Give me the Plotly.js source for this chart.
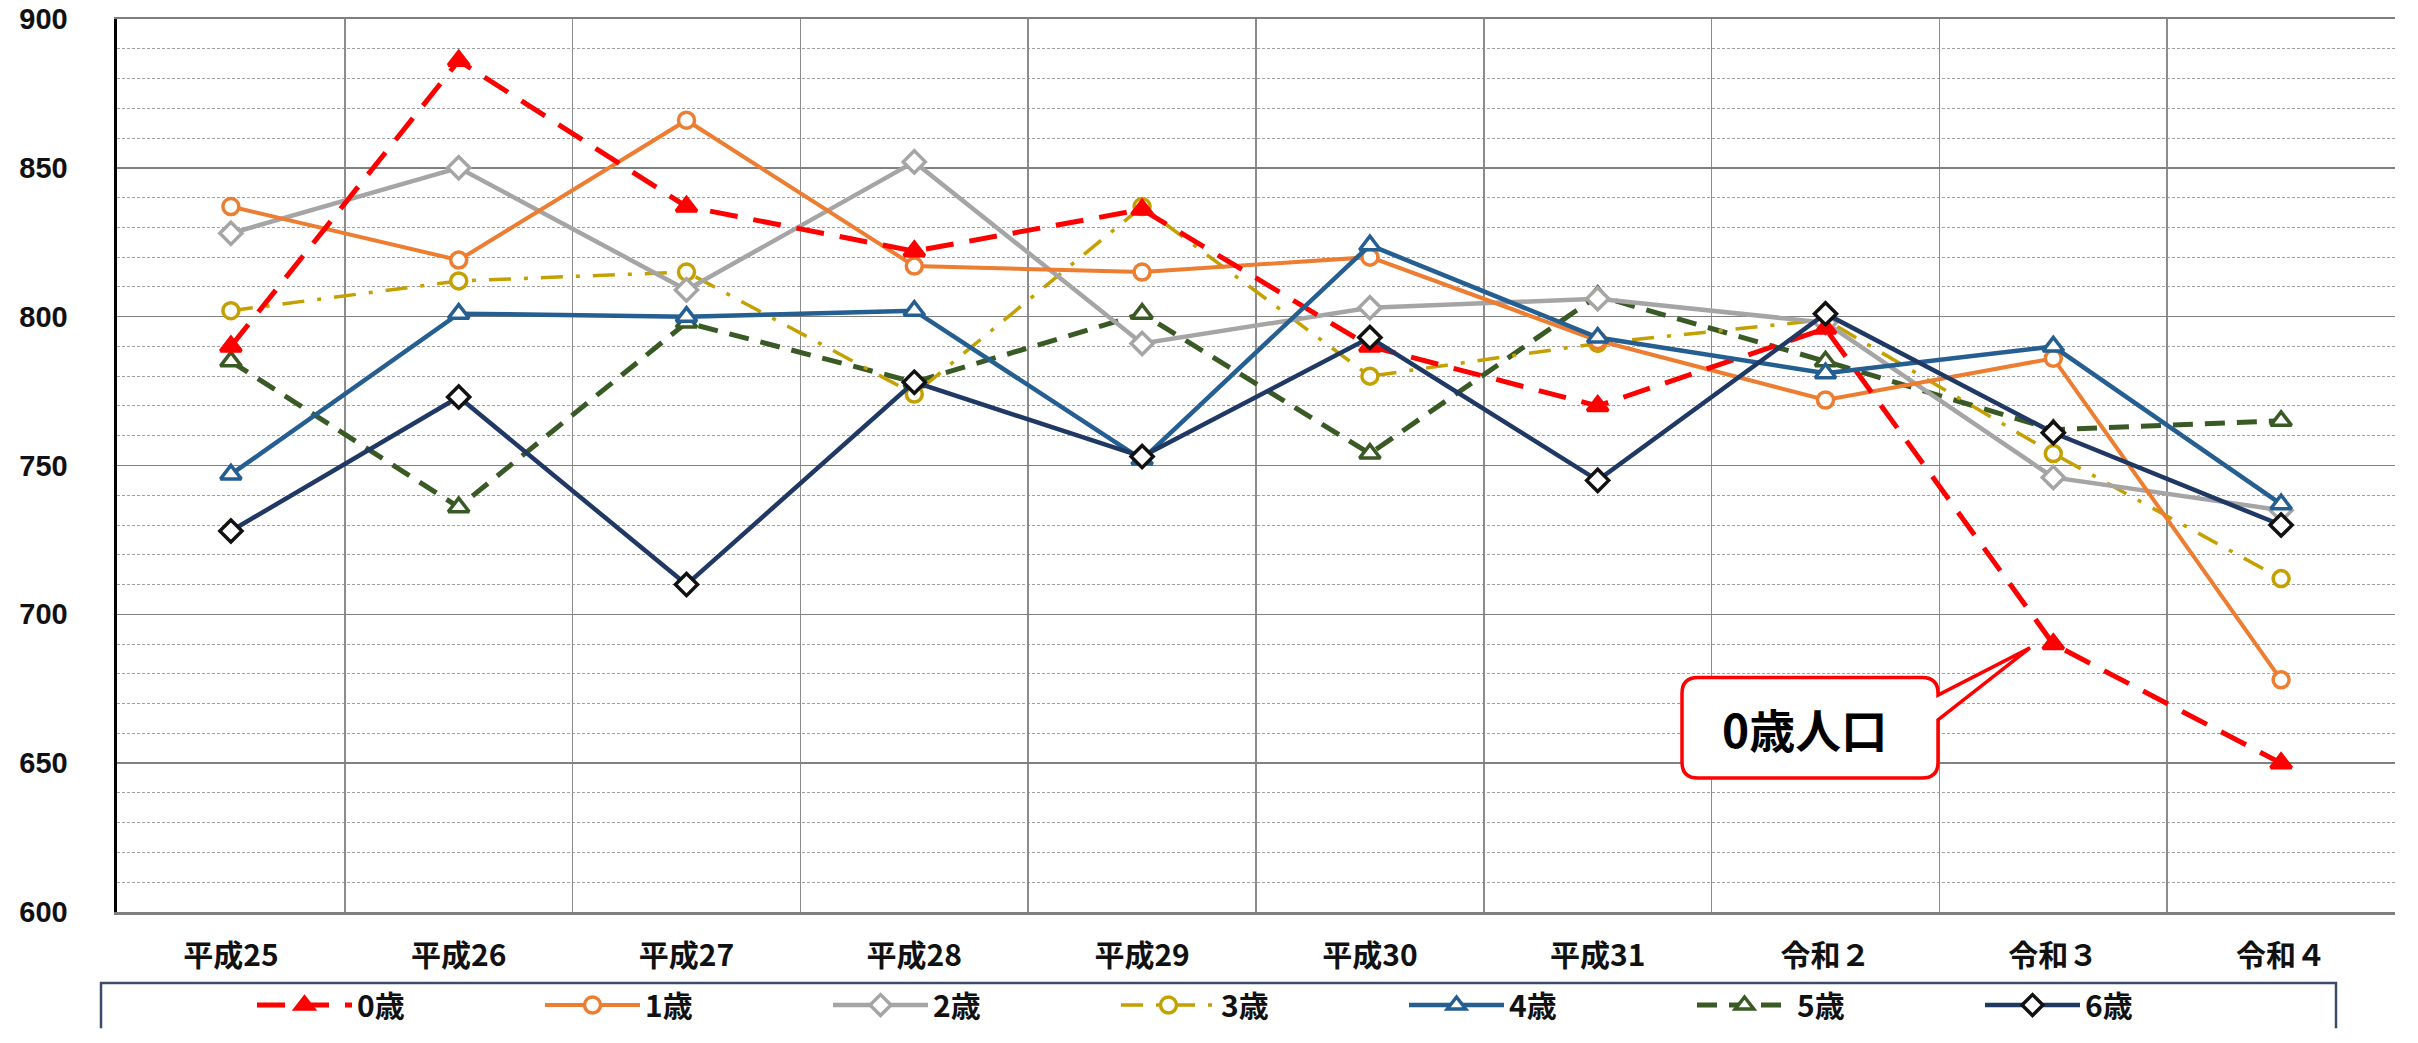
<!DOCTYPE html>
<html>
<head>
<meta charset="utf-8">
<script src="https://cdn.plot.ly/plotly-3.0.1.min.js"></script>
<style>
html,body{margin:0;padding:0;background:#fff;overflow:hidden;width:2418px;height:1043px;}
#chart{width:2418px;height:1043px;overflow:hidden;}
</style>
</head>
<body>
<div id="chart"></div>
<script>
// ---- data ----
const years = ['平成25','平成26','平成27','平成28','平成29','平成30','平成31','令和２','令和３','令和４'];
const seriesNames = ['0歳','1歳','2歳','3歳','4歳','5歳','6歳'];
const age0 = [790, 886, 837, 822, 836, 790, 770, 796, 690, 650];
const age1 = [837, 819, 866, 817, 815, 820, 792, 772, 786, 678];
const age2 = [828, 850, 809, 852, 791, 803, 806, 798, 746, 735];
const age3 = [802, 812, 815, 774, 837, 780, 791, 799, 754, 712];
const age4 = [747, 801, 800, 802, 752, 824, 793, 781, 790, 737];
const age5 = [785, 736, 798, 778, 801, 754, 807, 785, 762, 765];
const age6 = [728, 773, 710, 778, 753, 793, 745, 801, 761, 730];
const yTicks = [600, 650, 700, 750, 800, 850, 900];
const calloutText = '0歳人口';

// ---- styles ----
const FONT = '"Noto Sans CJK JP", "Noto Sans", sans-serif';
const NUMFONT = '"Liberation Sans", "DejaVu Sans", sans-serif';
const styles = [
  {color:'#ff0000', width:5, dash:'28px,16px', symbol:'triangle-up', size:18, mfill:'#ff0000', mline:'#ff0000'},
  {color:'#ed7d31', width:4, dash:'solid', symbol:'circle', size:16, mfill:'#ffffff', mline:'#ed7d31'},
  {color:'#a5a5a5', width:4.5, dash:'solid', symbol:'diamond', size:17, mfill:'#ffffff', mline:'#a5a5a5'},
  {color:'#c4a000', width:3.5, dash:'22px,13px,4px,13px', symbol:'circle', size:16, mfill:'#ffffff', mline:'#c4a000'},
  {color:'#255e91', width:4.5, dash:'solid', symbol:'triangle-up', size:18, mfill:'#ffffff', mline:'#255e91'},
  {color:'#3a5a25', width:5, dash:'20px,12px', symbol:'triangle-up', size:18, mfill:'#ffffff', mline:'#3a5a25'},
  {color:'#1f3864', width:4.5, dash:'solid', symbol:'diamond', size:17, mfill:'#ffffff', mline:'#111111'}
];
const allData = [age0, age1, age2, age3, age4, age5, age6];

const traces = allData.map((vals, i) => ({
  type:'scatter', mode:'lines+markers', name: seriesNames[i],
  x: years, y: vals,
  line:{color:styles[i].color, width:styles[i].width, dash:styles[i].dash},
  marker:{symbol:styles[i].symbol, size:styles[i].size, color:styles[i].mfill,
          line:{color:styles[i].mline, width:3.5}},
  cliponaxis:false, legendrank: i
}));
// draw order: later on top
const order = [5,3,2,1,0,4,6];
const orderedTraces = order.map(i => traces[i]);

// ---- geometry helpers (pixel -> paper) ----
const W = 2418, H = 1043;
const L0 = 117, R0 = 2395, T0 = 19, B0 = 925;
const px = X => (X - L0) / (R0 - L0);
const py = Y => (B0 - Y) / (B0 - T0);

// callout path
function callout(){
  const L=1682, R=1938, T=687, B=789, r=16;
  const tipX=2030, tipY=657, w1=705, w2=730;
  const p = (X,Y) => px(X).toFixed(5)+','+py(Y).toFixed(5);
  return 'M'+p(L+r,T)+' L'+p(R-r,T)+' Q'+p(R,T)+' '+p(R,T+r)+
    ' L'+p(R,w1)+' L'+p(tipX,tipY)+' L'+p(R,w2)+
    ' L'+p(R,B-r)+' Q'+p(R,B)+' '+p(R-r,B)+
    ' L'+p(L+r,B)+' Q'+p(L,B)+' '+p(L,B-r)+
    ' L'+p(L,T+r)+' Q'+p(L,T)+' '+p(L+r,T)+' Z';
}
// legend frame (bottom edge is cut off by the picture)
function legendFrame(){
  const p = (X,Y) => px(X).toFixed(5)+','+py(Y).toFixed(5);
  return 'M'+p(101,1043)+' L'+p(101,997)+' L'+p(2336,997)+' L'+p(2336,1043);
}

const layout = {
  width: W, height: H,
  margin:{l:L0, r:W-R0, t:T0, b:H-B0, pad:0},
  paper_bgcolor:'#ffffff', plot_bgcolor:'#ffffff',
  font:{family:FONT, color:'#000'},
  showlegend:true,
  xaxis:{
    type:'category', range:[-0.5, 9.5],
    tickson:'boundaries', showgrid:true, gridcolor:'#8c8c8c', gridwidth:1.5,
    showline:true, linecolor:'#7f7f7f', linewidth:2.5, mirror:true,
    ticks:'', ticklabelstandoff:15, ticklabeloverflow:'allow',
    tickfont:{family:FONT, size:30, weight:700, color:'#111'},
    zeroline:false, fixedrange:true
  },
  yaxis:{
    range:[600, 900], tickmode:'array', tickvals:yTicks, ticktext:yTicks.map(String),
    ticklabeloverflow:'allow',
    showgrid:true, gridcolor:'#808080', gridwidth:1.5,
    minor:{dtick:10, tick0:600, showgrid:true, gridcolor:'#a0a0a0', gridwidth:1, griddash:'3px,2px'},
    showline:true, linecolor:'#000', linewidth:3.5,
    ticks:'', ticklabelstandoff:40,
    tickfont:{family:NUMFONT, size:29, weight:700, color:'#111'},
    zeroline:false, fixedrange:true
  },
  legend:{
    orientation:'h', x:px(252), xanchor:'left', y:py(993), yanchor:'top',
    font:{family:FONT, size:30, weight:700, color:'#111'},
    itemwidth:95, entrywidth:178, entrywidthmode:'pixels',
    traceorder:'normal', borderwidth:0, bgcolor:'rgba(0,0,0,0)'
  },
  shapes:[
    {type:'path', xref:'paper', yref:'paper', path:legendFrame(),
     line:{color:'#3d4b6b', width:2.5}, fillcolor:'rgba(0,0,0,0)', layer:'above'},
    {type:'path', xref:'paper', yref:'paper', path:callout(),
     line:{color:'#ff0000', width:3.5}, fillcolor:'#ffffff', layer:'above'}
  ],
  annotations:[
    {xref:'paper', yref:'paper', x:px(1804), y:py(738), xanchor:'center', yanchor:'middle',
     text:calloutText, showarrow:false,
     font:{family:FONT, size:46, weight:700, color:'#000'}}
  ]
};

Plotly.newPlot('chart', orderedTraces, layout, {displayModeBar:false, staticPlot:true});
</script>
</body>
</html>
